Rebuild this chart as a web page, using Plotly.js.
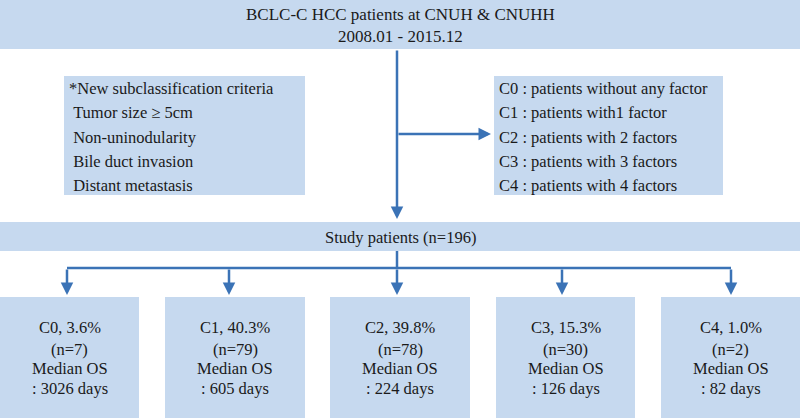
<!DOCTYPE html>
<html>
<head>
<meta charset="utf-8">
<script src="https://cdn.plot.ly/plotly-3.0.1.min.js"></script>
<style>html,body{margin:0;padding:0;background:#fff;}#chart{width:800px;height:418px;}</style>
</head>
<body>
<div id="chart"></div>
<script>
// ---- data ----
const topLines = ["BCLC-C HCC patients at CNUH &amp; CNUHH", "2008.01 - 2015.12"];
const criteriaLines = ["*New subclassification criteria", " Tumor size \u2265 5cm", " Non-uninodularity", " Bile duct invasion", " Distant metastasis"];
const classLines = ["C0 : patients without any factor", "C1 : patients with1 factor", "C2 : patients with 2 factors", "C3 : patients with 3 factors", "C4 : patients with 4 factors"];
const studyLabel = "Study patients (n=196)";
const groups = ["C0", "C1", "C2", "C3", "C4"];
const percents = [3.6, 40.3, 39.8, 15.3, 1.0];
const counts = [7, 79, 78, 30, 2];
const medianOS = [3026, 605, 224, 126, 82];

// ---- layout geometry (pixels) ----
const FILL = "#c6d9ef";
const LINE = "#3b73b6";
const TXT = "#1a1a1a";
const FONT = "Liberation Serif";
const W = 800, H = 418;
const shapes = [];
const annotations = [];
function rect(x0, y0, x1, y1) {
  shapes.push({type: "rect", xref: "x", yref: "y", x0, y0, x1, y1, fillcolor: FILL, line: {width: 0}, layer: "below"});
}
function line(x0, y0, x1, y1) {
  shapes.push({type: "line", xref: "x", yref: "y", x0, y0, x1, y1, line: {color: LINE, width: 2.5}});
}
function arrow(x0, y0, x1, y1) {
  annotations.push({x: x1, y: y1, ax: x0, ay: y0, xref: "x", yref: "y", axref: "x", ayref: "y",
    text: "", showarrow: true, arrowhead: 2, arrowsize: 1, arrowwidth: 2.5, arrowcolor: LINE, standoff: 0, startstandoff: 0});
}
function text(x, y, t, anchor, size) {
  annotations.push({x, y, xref: "x", yref: "y", text: t, showarrow: false, xanchor: anchor || "center", yanchor: "middle",
    font: {family: FONT, size: size || 16.5, color: TXT}});
}

// top box
rect(0, 0, W, 49);
text(400, 14, topLines[0], "center", 17);
text(400, 36, topLines[1], "center", 17);
// criteria box
rect(64, 76, 305, 195);
const rowY = [88, 112, 137, 161, 185];
criteriaLines.forEach((t, i) => text(67, rowY[i], t.replace(/^ /, "&nbsp;"), "left"));
// class box
rect(494, 76, 723, 195);
classLines.forEach((t, i) => text(497, rowY[i], t, "left"));
// main vertical arrow
arrow(397, 49, 397, 219);
// side arrow to class box
arrow(397, 134, 491, 134);
// study box
rect(0, 222, W, 251);
text(400, 237, studyLabel);
// connectors
const boxes = [[0, 139], [165, 305], [330, 470], [496, 635], [661, 800]];
const arrowX = [67, 229, 397, 562, 731];
line(397, 251, 397, 268);
line(arrowX[0], 268, arrowX[4], 268);
arrowX.forEach(x => arrow(x, 268, x, 295));
// group boxes
const lineY = [327, 349, 368, 388];
groups.forEach((g, i) => {
  const [a, b] = boxes[i];
  rect(a, 297, b, H);
  const cx = (a + b) / 2;
  const lines = [g + ", " + percents[i].toFixed(1) + "%", "(n=" + counts[i] + ")", "Median OS", ": " + medianOS[i] + " days"];
  lines.forEach((t, j) => text(cx, lineY[j], t));
});

const layout = {
  width: W, height: H,
  margin: {l: 0, r: 0, t: 0, b: 0},
  paper_bgcolor: "#ffffff", plot_bgcolor: "#ffffff",
  xaxis: {range: [0, W], visible: false, fixedrange: true},
  yaxis: {range: [H, 0], visible: false, fixedrange: true},
  shapes, annotations, showlegend: false
};
Plotly.newPlot("chart", [{x: [], y: [], type: "scatter"}], layout, {displayModeBar: false, staticPlot: true});
</script>
</body>
</html>
